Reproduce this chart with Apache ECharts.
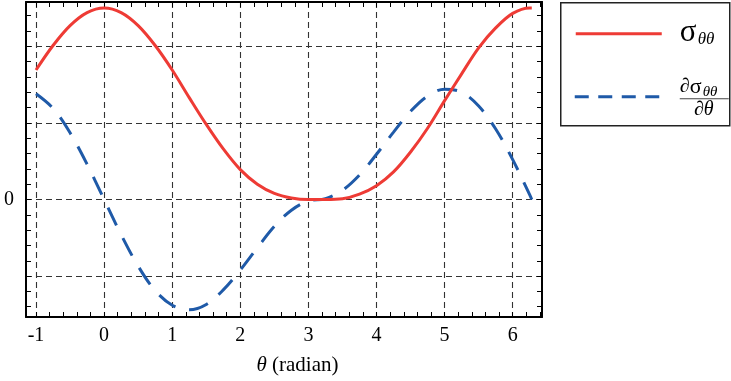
<!DOCTYPE html>
<html>
<head>
<meta charset="utf-8">
<script src="https://cdn.jsdelivr.net/npm/echarts@6/dist/echarts.min.js"></script>
<style>
  html, body { margin: 0; padding: 0; background: #fff; }
  #chart { width: 731px; height: 381px; }
</style>
</head>
<body>
<div id="chart"></div>
<script>
// Hoop stress and its angular derivative, sampled over one period (θ in radians)
const theta = [-1, -0.75, -0.5, -0.25, 0, 0.25, 0.5, 0.75, 1, 1.25, 1.5, 1.75, 2, 2.25, 2.5, 2.75,
  3, 3.25, 3.5, 3.75, 4, 4.25, 4.5, 4.75, 5, 5.25, 5.5, 5.75, 6, 6.25, 6.28];
const sigma = [1.69, 2.01, 2.27, 2.44, 2.50, 2.44, 2.27, 2.01, 1.69, 1.33, 0.98, 0.66, 0.39, 0.20, 0.08, 0.02,
  0.00, 0.00, 0.01, 0.07, 0.18, 0.36, 0.62, 0.93, 1.29, 1.64, 1.98, 2.24, 2.43, 2.50, 2.50];
const dSigma = [1.38, 1.19, 0.87, 0.46, 0.00, -0.46, -0.87, -1.19, -1.38, -1.44, -1.37, -1.18, -0.92, -0.63, -0.35, -0.14,
  -0.02, 0.01, 0.12, 0.32, 0.59, 0.88, 1.15, 1.35, 1.44, 1.40, 1.22, 0.92, 0.52, 0.06, 0.00];

// Axis ticks and labels
const xLabels = [-1, 0, 1, 2, 3, 4, 5, 6];
const yLabels = [0];
const yGrid = [-1, 0, 1, 2];
const xMinor = [-1, -0.8, -0.6, -0.4, -0.2, 0, 0.2, 0.4, 0.6, 0.8, 1, 1.2, 1.4, 1.6, 1.8, 2, 2.2, 2.4, 2.6, 2.8,
  3, 3.2, 3.4, 3.6, 3.8, 4, 4.2, 4.4, 4.6, 4.8, 5, 5.2, 5.4, 5.6, 5.8, 6, 6.2, 6.4];
const yMinor = [-1.4, -1.2, -1, -0.8, -0.6, -0.4, -0.2, 0, 0.2, 0.4, 0.6, 0.8, 1, 1.2, 1.4, 1.6, 1.8, 2, 2.2, 2.4];

const X_MIN = -1.147, X_MAX = 6.43;
const Y_MIN = -1.534, Y_MAX = 2.578;

const SERIF = '"Liberation Serif", "DejaVu Serif", serif';
const RED = '#ee3b35';
const BLUE = '#1f5aa8';

const frameLine = { show: true, onZero: false, lineStyle: { color: '#000', width: 2 } };
const minorTick = (vals) => ({ show: true, inside: true, length: 5, customValues: vals, lineStyle: { color: '#000', width: 1 } });
const gridDash = { show: true, lineStyle: { color: '#333', width: 1.1, type: [6, 4] } };

const chart = echarts.init(document.getElementById('chart'), null, { renderer: 'canvas' });

chart.setOption({
  animation: false,
  backgroundColor: '#fff',
  grid: { left: 26, top: 2, right: 189, bottom: 61, containLabel: false },
  xAxis: [
    {
      type: 'value', min: X_MIN, max: X_MAX, position: 'bottom',
      axisLine: frameLine,
      axisTick: minorTick(xMinor),
      axisLabel: {
        customValues: xLabels, color: '#000', fontFamily: SERIF, fontSize: 20, margin: 9
      },
      splitLine: { show: false },
      name: '{it|θ} (radian)',
      nameLocation: 'middle',
      nameGap: 38,
      nameTextStyle: {
        color: '#000', fontFamily: SERIF, fontSize: 21, padding: [0, 0, 0, 27],
        rich: { it: { fontStyle: 'italic', fontFamily: SERIF, fontSize: 21, color: '#000' } }
      }
    },
    {
      type: 'value', min: X_MIN, max: X_MAX, position: 'top',
      axisLine: frameLine,
      axisTick: minorTick(xMinor),
      axisLabel: { show: false },
      splitLine: { show: false }
    },
    {
      type: 'value', min: X_MIN, max: X_MAX, position: 'bottom',
      axisLine: { show: false, onZero: false },
      axisTick: { show: false, customValues: xLabels },
      axisLabel: { show: false, customValues: xLabels },
      splitLine: gridDash
    }
  ],
  yAxis: [
    {
      type: 'value', min: Y_MIN, max: Y_MAX, position: 'left',
      axisLine: frameLine,
      axisTick: minorTick(yMinor),
      axisLabel: { customValues: yLabels, color: '#000', fontFamily: SERIF, fontSize: 20, margin: 12 },
      splitLine: { show: false }
    },
    {
      type: 'value', min: Y_MIN, max: Y_MAX, position: 'right',
      axisLine: frameLine,
      axisTick: minorTick(yMinor),
      axisLabel: { show: false },
      splitLine: { show: false }
    },
    {
      type: 'value', min: Y_MIN, max: Y_MAX, position: 'left',
      axisLine: { show: false, onZero: false },
      axisTick: { show: false, customValues: yGrid },
      axisLabel: { show: false, customValues: yGrid },
      splitLine: gridDash
    }
  ],
  series: [
    {
      name: 'sigma',
      type: 'line',
      xAxisIndex: 0, yAxisIndex: 0,
      data: theta.map((t, i) => [t, sigma[i]]),
      smooth: 0.35,
      showSymbol: false,
      lineStyle: { color: RED, width: 3 },
      z: 4
    },
    {
      name: 'dsigma',
      type: 'line',
      xAxisIndex: 0, yAxisIndex: 0,
      data: theta.map((t, i) => [t, dSigma[i]]),
      smooth: 0.35,
      showSymbol: false,
      lineStyle: { color: BLUE, width: 3, type: [20, 14] },
      z: 3
    }
  ],
  graphic: [
    {
      type: 'group',
      left: 560, top: 2,
      children: [
        { type: 'rect', shape: { x: 0, y: 0, width: 169, height: 123 }, style: { fill: '#fff', stroke: '#222', lineWidth: 1.5 } },
        { type: 'line', shape: { x1: 15, y1: 31, x2: 101, y2: 31 }, style: { stroke: RED, lineWidth: 3 } },
        { type: 'text', x: 119, y: 30, style: { text: 'σ', font: '31px ' + SERIF, fill: '#000', verticalAlign: 'middle' } },
        { type: 'text', x: 137, y: 37, style: { text: 'θθ', font: 'italic 17px ' + SERIF, fill: '#000', verticalAlign: 'middle' } },
        { type: 'line', shape: { x1: 14, y1: 94, x2: 100, y2: 94 }, style: { stroke: BLUE, lineWidth: 3, lineDash: [14, 9.5] } },
        { type: 'text', x: 119, y: 84, style: { text: '∂', font: 'italic 20px ' + SERIF, fill: '#000', verticalAlign: 'middle' } },
        { type: 'text', x: 129, y: 84, style: { text: 'σ', font: '22px ' + SERIF, fill: '#000', verticalAlign: 'middle' } },
        { type: 'text', x: 142, y: 89, style: { text: 'θθ', font: 'italic 15px ' + SERIF, fill: '#000', verticalAlign: 'middle' } },
        { type: 'line', shape: { x1: 119, y1: 96, x2: 168, y2: 96 }, style: { stroke: '#444', lineWidth: 1 } },
        { type: 'text', x: 143, y: 107, style: { text: '∂θ', font: 'italic 20px ' + SERIF, fill: '#000', verticalAlign: 'middle', align: 'center' } }
      ]
    }
  ]
});
</script>
</body>
</html>
